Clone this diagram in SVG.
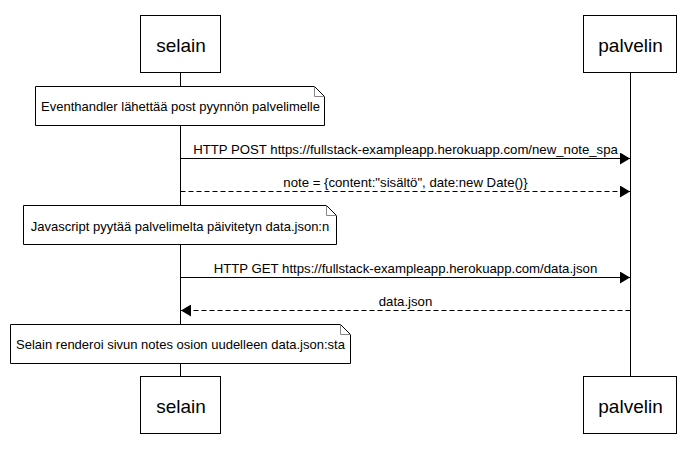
<svg xmlns="http://www.w3.org/2000/svg" width="692" height="457" viewBox="0 0 692 457">
<defs>
<style>
.actor{fill:#fff;stroke:#000;stroke-width:1}
.atxt{font-family:"Liberation Sans",Arial,sans-serif;font-size:19px;fill:#000;text-anchor:middle}
.note{fill:#fff;stroke:#000;stroke-width:1}
.fold{fill:none;stroke:#888;stroke-width:1}
.ntxt{font-family:"Liberation Sans",Arial,sans-serif;font-size:13px;fill:#000;text-anchor:middle}
.mtxt{font-family:"Liberation Sans",Arial,sans-serif;font-size:13.2px;fill:#000;text-anchor:middle}
.life{stroke:#000;stroke-width:1}
.msg{stroke:#000;stroke-width:1;fill:none}
.dash{stroke-dasharray:5,3}
</style>
<marker id="ah" viewBox="0 0 10 12" refX="10" refY="6" markerWidth="10" markerHeight="12" markerUnits="userSpaceOnUse" orient="auto">
<path d="M0,0 L10,6 L0,12 z" fill="#000"/>
</marker>
</defs>
<g id="lifelines">
<line class="life" x1="180.5" y1="72.5" x2="180.5" y2="376.5"/>
<line class="life" x1="630.5" y1="72.5" x2="630.5" y2="376.5"/>
</g>
<g id="selain-top"><rect class="actor" x="140.5" y="15.5" width="80" height="57"/><text class="atxt" x="181" y="51.5">selain</text></g>
<g id="palvelin-top"><rect class="actor" x="583.5" y="15.5" width="93" height="57"/><text class="atxt" x="630.5" y="51.5">palvelin</text></g>
<g id="note1">
<path class="note" d="M35.5,86.5 H314.5 L324.5,96.5 V125.5 H35.5 Z"/>
<path class="fold" d="M314.5,86.5 V96.5 H324.5"/>
<text class="ntxt" x="180.5" y="111">Eventhandler lähettää post pyynnön palvelimelle</text>
</g>
<g id="note2">
<path class="note" d="M23.5,205.5 H326.5 L336.5,215.5 V244.5 H23.5 Z"/>
<path class="fold" d="M326.5,205.5 V215.5 H336.5"/>
<text class="ntxt" x="180" y="230.5">Javascript pyytää palvelimelta päivitetyn data.json:n</text>
</g>
<g id="note3">
<path class="note" d="M10.5,324.5 H340.5 L350.5,334.5 V363.5 H10.5 Z"/>
<path class="fold" d="M340.5,324.5 V334.5 H350.5"/>
<text class="ntxt" x="180.5" y="349">Selain renderoi sivun notes osion uudelleen data.json:sta</text>
</g>
<g id="connectors">
<line class="msg" x1="180.5" y1="158.5" x2="630" y2="158.5" marker-end="url(#ah)"/>
<text class="mtxt" x="405.5" y="153.5">HTTP POST https://fullstack-exampleapp.herokuapp.com/new_note_spa</text>
<line class="msg dash" x1="180.5" y1="191.5" x2="630" y2="191.5" marker-end="url(#ah)"/>
<text class="mtxt" x="405.5" y="186.5">note = {content:"sisältö", date:new Date()}</text>
<line class="msg" x1="180.5" y1="277.5" x2="630" y2="277.5" marker-end="url(#ah)"/>
<text class="mtxt" x="405.5" y="272.5">HTTP GET https://fullstack-exampleapp.herokuapp.com/data.json</text>
<line class="msg dash" x1="630.5" y1="310.5" x2="181" y2="310.5" marker-end="url(#ah)"/>
<text class="mtxt" x="405.5" y="305.5">data.json</text>
</g>
<g id="selain-bottom"><rect class="actor" x="140.5" y="376.5" width="80" height="57"/><text class="atxt" x="181" y="412.5">selain</text></g>
<g id="palvelin-bottom"><rect class="actor" x="583.5" y="376.5" width="93" height="57"/><text class="atxt" x="630.5" y="412.5">palvelin</text></g>
</svg>
